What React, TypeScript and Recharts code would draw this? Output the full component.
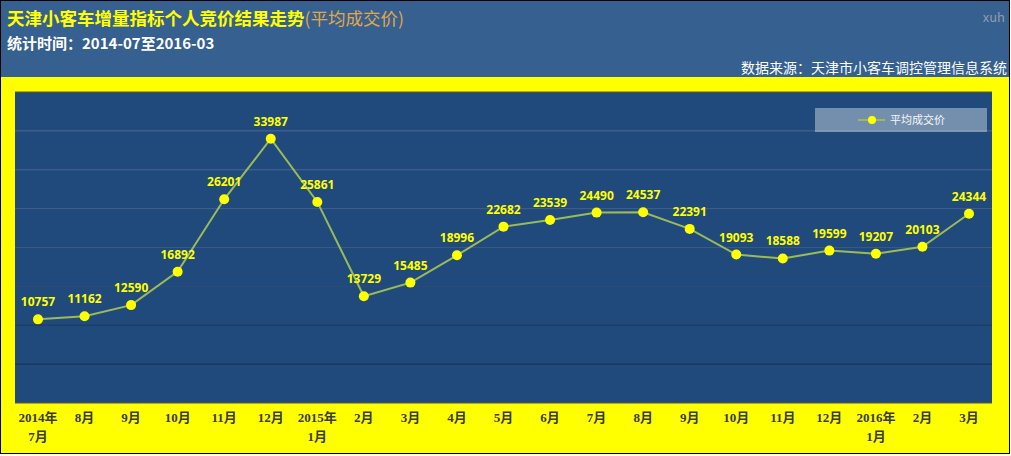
import { LineChart, Line, XAxis, YAxis, CartesianGrid, ReferenceLine, LabelList, Legend } from 'recharts';

const months = [
  '2014年\n7月', '8月', '9月', '10月', '11月', '12月', '2015年\n1月', '2月', '3月', '4月', '5月',
  '6月', '7月', '8月', '9月', '10月', '11月', '12月', '2016年\n1月', '2月', '3月',
];
const avgPrice = [
  10757, 11162, 12590, 16892, 26201, 33987, 25861, 13729, 15485, 18996, 22682,
  23539, 24490, 24537, 22391, 19093, 18588, 19599, 19207, 20103, 24344,
];
const gridValues = [35000, 30000, 25000, 20000, 15000, 10000, 5000];
const yTicks = [0, 5000, 10000, 15000, 20000, 25000, 30000, 35000, 40000];

const gridColors = ['#4a6994', '#47668f', '#42618a', '#3a5982', '#2d4c74', '#1d3a60', '#163150'];

const lineColor = '#9bbb59';
const dotColor = '#ffff00';

const data = months.map((m, i) => ({ month: m, price: avgPrice[i] }));

function MonthTick(props: any) {
  const { x, y, payload } = props;
  const parts = String(payload.value).split('\n');
  return (
    <text
      x={x}
      y={y}
      textAnchor="middle"
      fill="#3a3a3a"
      style={{ fontFamily: '"Liberation Serif", "Noto Sans CJK SC", serif', fontWeight: 700, fontSize: 13 }}
    >
      {parts.map((p, i) => (
        <tspan key={i} x={x} dy={19}>
          {p}
        </tspan>
      ))}
    </text>
  );
}

function PriceLabel(props: any) {
  const { x, y, value } = props;
  return (
    <text
      x={x}
      y={y - 13}
      textAnchor="middle"
      fill="#ffff00"
      style={{ fontFamily: '"Open Sans", sans-serif', fontWeight: 700, fontSize: 12 }}
    >
      {value}
    </text>
  );
}

function LegendBox() {
  return (
    <svg width={172} height={24} style={{ display: 'block' }}>
      <rect x={0} y={0} width={172} height={24} fill="rgba(255,255,255,0.38)" />
      <line x1={43} x2={70} y1={12} y2={12} stroke={lineColor} strokeWidth={2} />
      <circle cx={57} cy={12} r={4} fill={dotColor} />
      <text
        x={75}
        y={16}
        fill="#f4f6fa"
        style={{ fontFamily: '"Noto Sans CJK SC", sans-serif', fontSize: 11 }}
      >
        平均成交价
      </text>
    </svg>
  );
}

export default function App() {
  return (
    <div style={{ position: 'absolute', left: 0, top: 0, width: 1011, height: 456, background: '#fff' }}>
      <div
        style={{
          position: 'absolute',
          left: 0,
          top: 0,
          width: 1010,
          height: 454,
          boxSizing: 'border-box',
          border: '1px solid #000',
          background: '#ffff00',
        }}
      />
      <div
        style={{
          position: 'absolute',
          left: 1,
          top: 1,
          width: 1008,
          height: 76,
          background: '#36608f',
          fontFamily: '"Noto Sans CJK SC", "Liberation Sans", sans-serif',
        }}
      >
        <div style={{ position: 'absolute', left: 6, top: 4, fontSize: 17.5, fontWeight: 700, color: '#ffff00', whiteSpace: 'nowrap' }}>
          天津小客车增量指标个人竞价结果走势
          <span style={{ fontWeight: 400, color: '#e0a84a' }}>(平均成交价)</span>
        </div>
        <div style={{ position: 'absolute', left: 6, top: 31, fontSize: 15, fontWeight: 700, color: '#ffffff', whiteSpace: 'nowrap' }}>
          统计时间：2014-07至2016-03
        </div>
        <div style={{ position: 'absolute', right: 4, top: 6, fontSize: 13, color: '#8d9db2' }}>xuh</div>
        <div style={{ position: 'absolute', right: 2, top: 56, fontSize: 14, color: '#ffffff', whiteSpace: 'nowrap' }}>
          数据来源：天津市小客车调控管理信息系统
        </div>
      </div>
      <div style={{ position: 'absolute', left: 0, top: 77 }}>
        <LineChart width={1008} height={375} data={data} margin={{ top: 15, right: 16, left: 15, bottom: 0 }}>
          <CartesianGrid horizontal={false} vertical={false} fill="#204a7b" fillOpacity={1} />
          <XAxis
            dataKey="month"
            interval={0}
            padding={{ left: 23, right: 23 }}
            axisLine={{ stroke: '#5e5a35', strokeWidth: 1 }}
            tickLine={false}
            tickSize={0}
            tickMargin={0}
            height={49}
            tick={<MonthTick />}
          />
          <YAxis hide domain={[0, 40000]} ticks={yTicks} />
          {gridValues.map((v, i) => (
            <ReferenceLine key={v} y={v} stroke={gridColors[i]} strokeWidth={1} />
          ))}
          <ReferenceLine y={40000} stroke="#5e5a35" strokeWidth={1} />
          <Legend
            layout="horizontal"
            align="center"
            verticalAlign="middle"
            wrapperStyle={{ position: 'absolute', top: 31, left: 815, width: 172, height: 24 }}
            content={() => <LegendBox />}
          />
          <Line
            type="linear"
            dataKey="price"
            name="平均成交价"
            stroke={lineColor}
            strokeWidth={2}
            dot={{ r: 5, fill: dotColor, stroke: 'none' }}
            activeDot={false}
            isAnimationActive={false}
          >
            <LabelList dataKey="price" content={<PriceLabel />} />
          </Line>
        </LineChart>
      </div>
    </div>
  );
}
